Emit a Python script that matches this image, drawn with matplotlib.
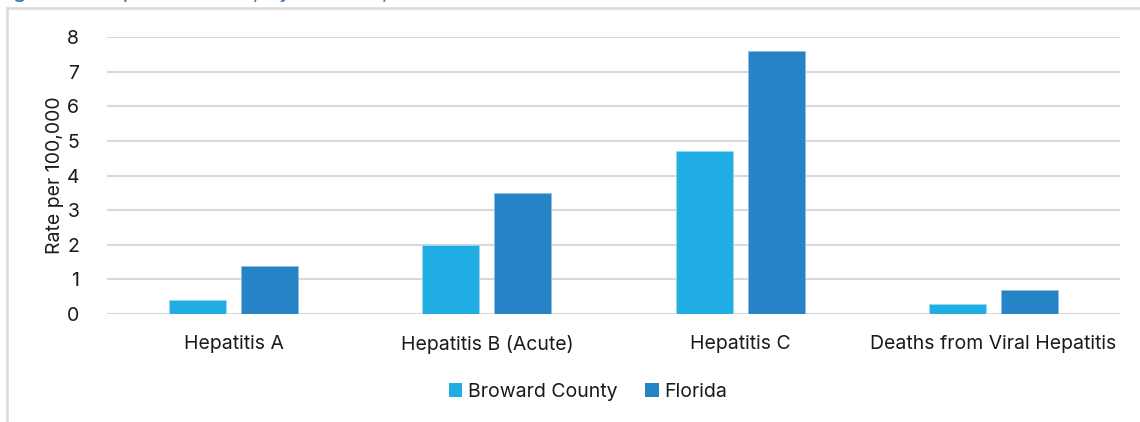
import matplotlib
matplotlib.use("Agg")
import matplotlib.pyplot as plt
from matplotlib.lines import Line2D
from matplotlib.patches import Patch
import numpy as np

categories = ["Hepatitis A", "Hepatitis B (Acute)", "Hepatitis C", "Deaths from Viral Hepatitis"]
series_names = ["Broward County", "Florida"]
broward = [0.4, 2.0, 4.7, 0.3]
florida = [1.4, 3.5, 7.6, 0.7]
y_ticks = [0, 1, 2, 3, 4, 5, 6, 7, 8]
y_label = "Rate per 100,000"
title = "Figure 8: Hepatitis Rates, by Disease, 2022"

colors = ["#1FADE4", "#2683C6"]
grid_color = "#D9D9D9"
text_color = "#1a1a1a"
fs = 14

plt.rcParams["font.family"] = ["Inter", "DejaVu Sans"]

fig = plt.figure(figsize=(11.4, 4.22), dpi=100)
ax = fig.add_axes([107 / 1140, 1 - 314 / 422, (1120 - 107) / 1140, (314 - 37) / 422])

x = np.arange(len(categories))
w = 0.225
off = 0.1425
ax.bar(x - off, broward, width=w, color=colors[0], edgecolor="#9fd8f0", linewidth=0.6, zorder=3)
ax.bar(x + off, florida, width=w, color=colors[1], edgecolor="#8cc0e4", linewidth=0.6, zorder=3)

ax.set_xlim(-0.5, len(categories) - 0.5)
ax.set_ylim(0, 8)
ax.set_yticks(y_ticks)
ax.set_yticklabels([str(t) for t in y_ticks], fontsize=fs, color=text_color)
ax.set_xticks(x)
ax.set_xticklabels(categories, fontsize=fs, color=text_color)
ax.tick_params(axis="both", length=0)
ax.tick_params(axis="y", pad=20)
ax.tick_params(axis="x", pad=15)
ax.yaxis.grid(True, color=grid_color, linewidth=1.5, zorder=0)
ax.set_axisbelow(True)
for s in ax.spines.values():
    s.set_visible(False)
ax.set_ylabel(y_label, fontsize=fs, color=text_color, labelpad=2)

handles = [Patch(facecolor=c, edgecolor="none") for c in colors]
fig.legend(handles, series_names, loc="center", bbox_to_anchor=(588 / 1140, 1 - 392 / 422),
           ncol=2, frameon=False, fontsize=fs, handlelength=0.7, handleheight=0.7,
           handletextpad=0.3, columnspacing=1.4, labelcolor=text_color)

# outer chart frame (top and left edges)
fig.add_artist(Line2D([7 / 1140, 7 / 1140], [0, 1 - 8 / 422], transform=fig.transFigure,
                      color=grid_color, linewidth=1.8))
fig.add_artist(Line2D([7 / 1140, 1], [1 - 8 / 422, 1 - 8 / 422], transform=fig.transFigure,
                      color=grid_color, linewidth=1.8))

# figure caption, running off the top edge
fig.text(-4 / 1140, 1 + 19 / 422, title, fontsize=16, style="italic", color="#2E75C8",
         ha="left", va="top")

fig.savefig("out.png", dpi=100)
